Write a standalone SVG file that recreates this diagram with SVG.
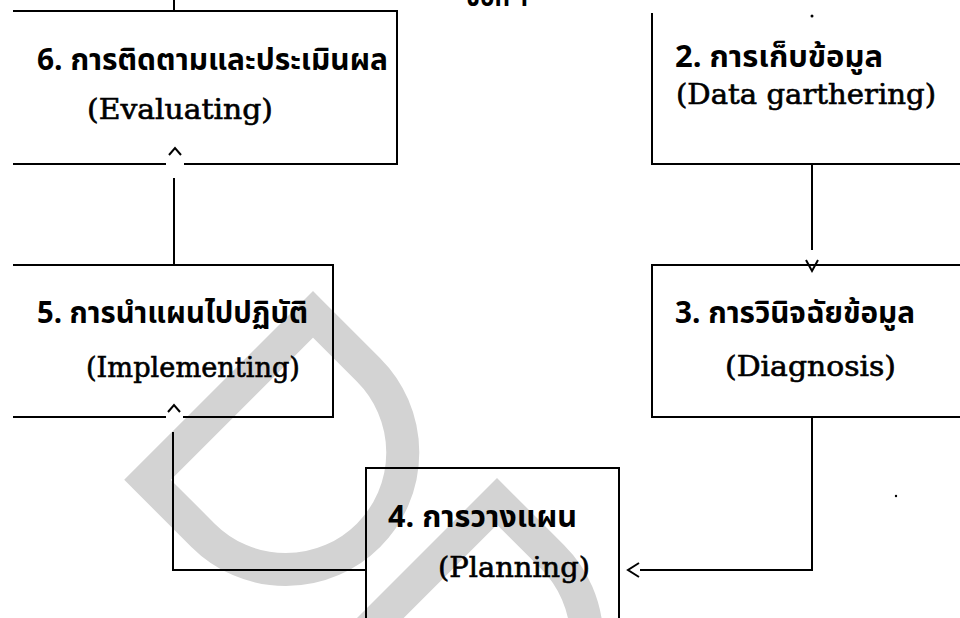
<svg xmlns="http://www.w3.org/2000/svg" width="960" height="618" viewBox="0 0 960 618">
<style>
.wm{fill:none;stroke:#d3d3d3;stroke-width:33;stroke-linejoin:miter}
.box{fill:none;stroke:#000;stroke-width:2}
.con{fill:none;stroke:#000;stroke-width:2}
.head{fill:none;stroke:#000;stroke-width:2;stroke-linejoin:miter}
.th{font-family:"Noto Sans Thai","Noto Serif Thai","Garuda","Loma","Tlwg Typo","DejaVu Sans",sans-serif;font-size:30px;font-weight:bold;fill:#000}
.en{font-family:"DejaVu Serif","Liberation Serif",serif;font-size:27px;fill:#000;stroke:#000;stroke-width:0.6}
</style>
<defs>
<path id="dshape" d="M16.5,16.5 H95 A117,117 0 0 1 95,250.5 H16.5 Z"/>
</defs>
<rect width="960" height="618" fill="#fff"/>
<g id="watermark">
<use href="#dshape" class="wm" transform="translate(313,291) rotate(45)"/>
<use href="#dshape" class="wm" transform="translate(497,478) rotate(45)"/>
</g>
<g id="header">
<text class="th" x="466" y="6" textLength="64" lengthAdjust="spacingAndGlyphs">ข้อที่ 1</text>
</g>
<g id="node6">
<path class="box" d="M13,11 H397 V164 H184 M166,164 H13 Z"/>
<text class="th" x="37" y="70" textLength="351" lengthAdjust="spacingAndGlyphs">6. การติดตามและประเมินผล</text>
<text class="en" x="87" y="119" textLength="186" lengthAdjust="spacingAndGlyphs">(Evaluating)</text>
</g>
<g id="node2">
<path class="box" d="M652,13 V164 H970"/>
<text class="th" x="675" y="67" textLength="208" lengthAdjust="spacingAndGlyphs">2. การเก็บข้อมูล</text>
<text class="en" x="676" y="104" textLength="260" lengthAdjust="spacingAndGlyphs">(Data garthering)</text>
</g>
<g id="node3">
<path class="box" d="M970,265 H652 V417 H970"/>
<text class="th" x="675" y="323" textLength="240" lengthAdjust="spacingAndGlyphs">3. การวินิจฉัยข้อมูล</text>
<text class="en" x="725" y="376" textLength="171" lengthAdjust="spacingAndGlyphs">(Diagnosis)</text>
</g>
<g id="node5">
<path class="box" d="M13,265 H333 V417 H183 M166,417 H13 Z"/>
<text class="th" x="37" y="323" textLength="271" lengthAdjust="spacingAndGlyphs">5. การนำแผนไปปฏิบัติ</text>
<text class="en" x="86" y="377" textLength="214" lengthAdjust="spacingAndGlyphs">(Implementing)</text>
</g>
<g id="node4">
<path class="box" d="M366,625 V468 H619 V625"/>
<text class="th" x="388" y="527" textLength="189" lengthAdjust="spacingAndGlyphs">4. การวางแผน</text>
<text class="en" x="438" y="577" textLength="152" lengthAdjust="spacingAndGlyphs">(Planning)</text>
</g>
<g id="connectors">
<path class="con" d="M174,0 V11"/>
<path class="con" d="M174,265 V178"/>
<polyline class="head" points="169,155 175,148 181,155"/>
<path class="con" d="M812,164 V250"/>
<polyline class="head" points="806,260 812,271 818,260"/>
<path class="con" d="M366,570 H173 V432"/>
<polyline class="head" points="168,412 174,405 180,412"/>
<path class="con" d="M812,417 V570 H640"/>
<polyline class="head" points="639,563 628,570 639,577"/>
</g>
<g id="specks">
<circle cx="812" cy="16" r="1.5" fill="#000"/>
<circle cx="896" cy="496" r="1.2" fill="#000"/>
</g>
</svg>
